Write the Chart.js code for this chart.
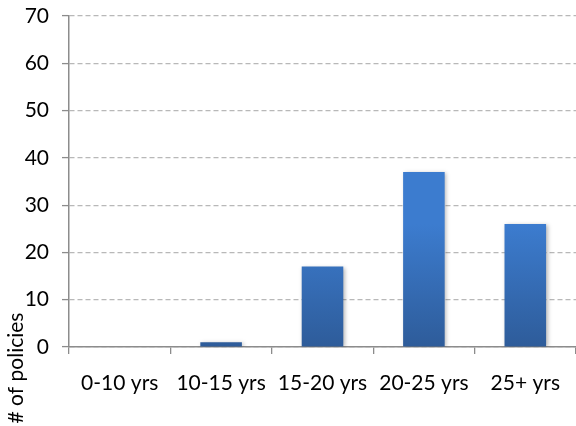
<!DOCTYPE html>
<html>
<head>
<meta charset="utf-8">
<script src="https://cdn.jsdelivr.net/npm/chart.js@4.4.1/dist/chart.umd.min.js"></script>
<style>
  html, body { margin: 0; padding: 0; background: #ffffff; }
  #wrap { width: 576px; height: 426px; position: relative; }
</style>
</head>
<body>
<div id="wrap"><canvas id="chart" width="576" height="426"></canvas></div>
<script>
// Policy counts by age band
const categories = ['0-10 yrs', '10-15 yrs', '15-20 yrs', '20-25 yrs', '25+ yrs'];
const policyCounts = [0, 1, 17, 37, 26];
const yTicks = [0, 10, 20, 30, 40, 50, 60, 70];
const yAxisTitle = '# of policies';

const FONT = 'Lato, "Open Sans", sans-serif';
const FONT_SIZE = 21;

// Per-bar vertical gradient plus a soft drop shadow
const barStyle = {
  id: 'barStyle',
  beforeDatasetsDraw(chart) {
    const ctx = chart.ctx;
    const meta = chart.getDatasetMeta(0);
    meta.data.forEach(el => {
      const top = Math.min(el.y, el.base);
      const bottom = Math.max(el.y, el.base);
      if (bottom - top < 0.5) return;
      const g = ctx.createLinearGradient(0, top, 0, bottom);
      g.addColorStop(0, '#3c7ccf');
      g.addColorStop(1, '#2e5c9a');
      el.options.backgroundColor = g;
    });
    ctx.save();
    ctx.shadowColor = 'rgba(0,0,0,0.28)';
    ctx.shadowBlur = 4;
    ctx.shadowOffsetX = 1.5;
    ctx.shadowOffsetY = 1;
  },
  afterDatasetsDraw(chart) {
    chart.ctx.restore();
  }
};

// Rotated axis title sitting low beside the value axis
const lowAxisTitle = {
  id: 'lowAxisTitle',
  afterDraw(chart) {
    const ctx = chart.ctx;
    ctx.save();
    ctx.translate(16, 368);
    ctx.rotate(-Math.PI / 2);
    ctx.font = FONT_SIZE + 'px ' + FONT;
    ctx.fillStyle = '#000000';
    ctx.textAlign = 'center';
    ctx.textBaseline = 'middle';
    ctx.fillText(yAxisTitle, 0, 0);
    ctx.restore();
  }
};

new Chart(document.getElementById('chart'), {
  type: 'bar',
  data: {
    labels: categories,
    datasets: [{
      data: policyCounts,
      backgroundColor: '#3567b3',
      borderWidth: 0,
      categoryPercentage: 1,
      barPercentage: 0.41
    }]
  },
  options: {
    responsive: false,
    animation: false,
    devicePixelRatio: 1,
    layout: { padding: { top: 16, right: 0, left: 0, bottom: 0 } },
    plugins: { legend: { display: false }, tooltip: { enabled: false } },
    scales: {
      x: {
        offset: true,
        grid: {
          offset: true,
          drawOnChartArea: false,
          drawTicks: true,
          tickLength: 7,
          color: '#8c8c8c',
          lineWidth: 1.3
        },
        border: { display: true, color: '#8c8c8c', width: 1.5 },
        ticks: {
          color: '#000000',
          font: { family: FONT, size: FONT_SIZE },
          padding: 17,
          maxRotation: 0,
          autoSkip: false
        },
        afterFit(scale) { scale.height = 79; scale.paddingLeft = 0; scale.paddingRight = 0; }
      },
      y: {
        min: 0,
        max: 70,
        afterBuildTicks(scale) { scale.ticks = yTicks.map(v => ({ value: v })); },
        grid: {
          color: '#b8b8b8',
          lineWidth: 1.2,
          drawTicks: true,
          tickLength: 7,
          tickColor: '#8c8c8c',
          tickBorderDash: [],
          tickWidth: 1.3
        },
        border: { display: true, color: '#8c8c8c', width: 1.5, dash: [5, 3] },
        ticks: {
          color: '#000000',
          font: { family: FONT, size: FONT_SIZE },
          padding: 13
        },
        afterFit(scale) { scale.width = 69; scale.paddingTop = 0; scale.paddingBottom = 0; }
      }
    }
  },
  plugins: [barStyle, lowAxisTitle]
});
</script>
</body>
</html>
